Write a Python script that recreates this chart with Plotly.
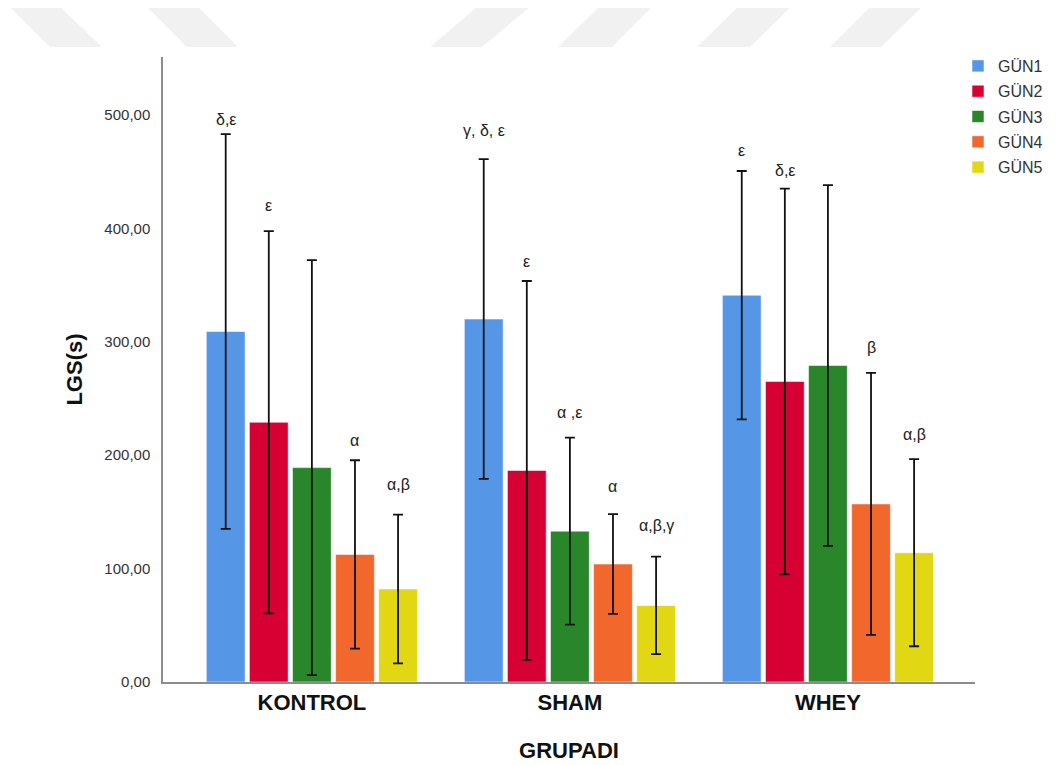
import plotly.graph_objects as go

# ---------------- data ----------------
groups = ["KONTROL", "SHAM", "WHEY"]
days = ["GÜN1", "GÜN2", "GÜN3", "GÜN4", "GÜN5"]

mean_gun1 = [309.0, 320.0, 341.0]
mean_gun2 = [229.0, 186.5, 265.0]
mean_gun3 = [189.0, 133.0, 279.0]
mean_gun4 = [112.5, 104.0, 157.0]
mean_gun5 = [82.0, 67.5, 114.0]

err_gun1 = [174.0, 141.0, 109.5]
err_gun2 = [168.5, 167.0, 170.0]
err_gun3 = [183.0, 82.5, 159.0]
err_gun4 = [83.0, 44.0, 115.5]
err_gun5 = [65.5, 43.0, 82.5]

# significance letters above each bar (group x day)
sig_gun1 = ["δ,ε", "γ, δ, ε", "ε"]
sig_gun2 = ["ε", "ε", "δ,ε"]
sig_gun3 = ["", "α ,ε", ""]
sig_gun4 = ["α", "α", "β"]
sig_gun5 = ["α,β", "α,β,γ", "α,β"]

y_tick_vals = [0, 100, 200, 300, 400, 500]
y_tick_text = ["0,00", "100,00", "200,00", "300,00", "400,00", "500,00"]

means = [mean_gun1, mean_gun2, mean_gun3, mean_gun4, mean_gun5]
errs = [err_gun1, err_gun2, err_gun3, err_gun4, err_gun5]
sigs = [sig_gun1, sig_gun2, sig_gun3, sig_gun4, sig_gun5]

# ---------------- style ----------------
colors = ["#5596E6", "#D60032", "#2A862A", "#F2672C", "#E1D712"]
label_shift = [  # pixel gap between error-bar top and label centre
    [15, 29, 21],
    [26, 20, 18],
    [0, 25, 0],
    [20, 28, 25],
    [30, 31, 25],
]
FONT = "Liberation Sans, Arial, sans-serif"
PAGE_OFF = 8                      # browser body margin
W, H = 1056 - PAGE_OFF, 765 - PAGE_OFF
ML, MR, MT, MB = 163 - PAGE_OFF, 81, 57 - PAGE_OFF, 83
BARGAP = 0.165
GROUPGAP = 0.10

fig = go.Figure()
for d, day in enumerate(days):
    fig.add_trace(go.Bar(
        x=groups, y=means[d], name=day,
        marker=dict(color=colors[d], line=dict(color="rgba(255,255,255,0.55)", width=1)),
        error_y=dict(type="data", array=errs[d], visible=True,
                     color="#111111", thickness=1.8, width=5),
        legendgroup=day,
    ))

# annotations above error bars
slot = (1 - BARGAP) / len(days)
for d in range(len(days)):
    for g in range(len(groups)):
        txt = sigs[d][g]
        if not txt:
            continue
        fig.add_annotation(
            x=g + (d - (len(days) - 1) / 2) * slot,
            y=means[d][g] + errs[d][g],
            xref="x", yref="y", text=txt, showarrow=False,
            yshift=label_shift[d][g], yanchor="middle",
            font=dict(family=FONT, size=16, color="#222222"),
        )

# faint watermark parallelograms at the very top (page pixel coords)
pw, ph = W - ML - MR, H - MT - MB
def px(x):
    return (x - PAGE_OFF - ML) / pw
def py(y):
    return (H - MB - (y - PAGE_OFF)) / ph
wm = [
    (10, 60, 50, 102), (147, 198, 187, 238),
    (477, 530, 430, 482), (599, 652, 558, 612),
    (738, 791, 697, 750), (870, 922, 830, 881),
]
for (t0, t1, b0, b1) in wm:
    path = (f"M{px(t0)},{py(7)} L{px(t1)},{py(7)} "
            f"L{px(b1)},{py(47)} L{px(b0)},{py(47)} Z")
    fig.add_shape(type="path", path=path, xref="paper", yref="paper",
                  fillcolor="#F1F1F1", line=dict(width=0), layer="below")

fig.update_layout(
    width=W, height=H,
    margin=dict(l=ML, r=MR, t=MT, b=MB, autoexpand=False),
    paper_bgcolor="white", plot_bgcolor="white",
    barmode="group", bargap=BARGAP, bargroupgap=GROUPGAP,
    font=dict(family=FONT, color="#222222"),
    showlegend=True,
    legend=dict(x=px(958), y=py(49), xanchor="left", yanchor="top",
                font=dict(family=FONT, size=16, color="#333333"),
                bgcolor="rgba(0,0,0,0)", tracegroupgap=1.5,
                traceorder="grouped"),
)
fig.update_xaxes(
    range=[-0.577, 2.57], showline=True, linecolor="#8C8C8C", linewidth=1.5,
    ticks="", showgrid=False, zeroline=False,
    tickfont=dict(family=FONT, size=22, color="#111111", weight="bold"),
    ticklabelstandoff=0,
    title=dict(text="<b>GRUPADI</b>", font=dict(family=FONT, size=22, color="#111111"),
               standoff=28),
)
fig.update_yaxes(
    range=[0, 551], showline=True, linecolor="#8C8C8C", linewidth=1.5,
    ticks="", showgrid=False, zeroline=False,
    tickvals=y_tick_vals, ticktext=y_tick_text,
    tickfont=dict(family=FONT, size=15, color="#333333"),
    ticklabelstandoff=8,
    title=dict(text="<b>LGS(s)</b>", font=dict(family=FONT, size=22, color="#111111"),
               standoff=16),
)

fig.write_html("out.html")
